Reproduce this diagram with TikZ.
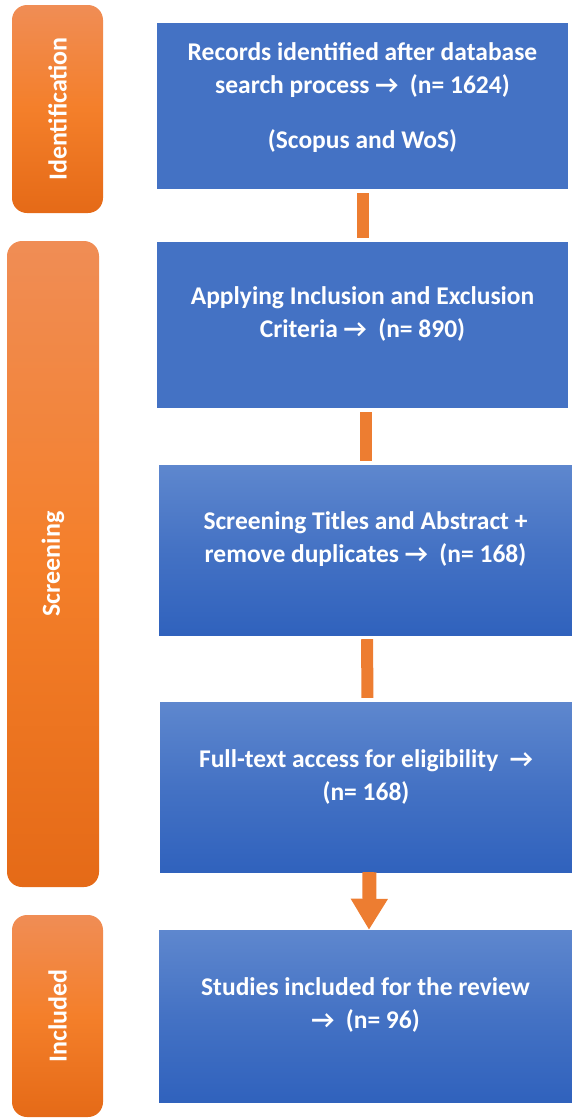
\documentclass[tikz,border=0pt]{standalone}
\usepackage{fontspec}
\setmainfont{Carlito}
\usetikzlibrary{arrows.meta}
\definecolor{stepblue}{HTML}{4472C4}
\definecolor{blueTop}{HTML}{5E87CE}
\definecolor{blueBot}{HTML}{3062BD}
\definecolor{orgTop}{HTML}{F08D55}
\definecolor{orgMid}{HTML}{F47F2A}
\definecolor{orgBot}{HTML}{E56A17}
\definecolor{linkorange}{HTML}{ED7D31}
\tikzset{
  x=1pt, y=1pt,
  flatbox/.style={rectangle, fill=stepblue, inner sep=0pt},
  shadebox/.style={rectangle, inner sep=0pt, top color=blueTop, bottom color=blueBot, middle color=stepblue},
  phasebox/.style={rectangle, rounded corners=15pt, inner sep=0pt, top color=orgTop, bottom color=orgBot, middle color=orgMid},
  phaselabel/.style={text=white, font=\bfseries\fontsize{26}{30}\selectfont, rotate=90},
  boxtext/.style={text=white, align=center, font=\bfseries\fontsize{25.5}{33}\selectfont},
  link/.style={draw=linkorange, line width=12pt, shorten <=4pt, shorten >=4pt},
}
\begin{document}
\begin{tikzpicture}
\useasboundingbox (0,0) rectangle (572,-1119);

% phase bars
\node[phasebox, minimum width=91pt, minimum height=208pt] (pid) at (57.5,-109) {};
\node[phaselabel] (lid) at (pid.center) {Identification};
\node[phasebox, minimum width=92pt, minimum height=646pt] (psc) at (53,-564) {};
\node[phaselabel] (lsc) at (psc.center) {Screening};
\node[phasebox, minimum width=91pt, minimum height=202pt] (pin) at (57.5,-1016) {};
\node[phaselabel] (lin) at (pin.center) {Included};

% process boxes
\node[flatbox, minimum width=411pt, minimum height=166pt] (b1) at (362.5,-106) {};
\node[boxtext] (t1) at (362.5,-98) {Records identified after database\\search process →\ \ (n= 1624)\\[22pt](Scopus and WoS)};
\node[flatbox, minimum width=411pt, minimum height=166pt] (b2) at (362.5,-325) {};
\node[boxtext] (t2) at (362.5,-314) {Applying Inclusion and Exclusion\\Criteria →\ \ (n= 890)};
\node[shadebox, minimum width=413pt, minimum height=170pt] (b3) at (365.5,-550) {};
\node[boxtext] (t3) at (365.5,-539) {Screening Titles and Abstract +\\remove duplicates →\ \ (n= 168)};
\node[shadebox, minimum width=412pt, minimum height=170pt] (b4) at (366,-787) {};
\node[boxtext] (t4) at (366,-777) {Full-text access for eligibility\ \ →\\(n= 168)};
\node[shadebox, minimum width=413pt, minimum height=172pt] (b5) at (365.5,-1016) {};
\node[boxtext] (t5) at (365.5,-1005) {Studies included for the review\\→\ \ (n= 96)};

% connectors
\draw[link] (b1.south) -- (b2.north);
\draw[link] ([xshift=3pt]b2.south -| b2.center) -- ([xshift=3pt]b3.north -| b2.center);
\draw[link] ([xshift=1.5pt]b3.south) -- ([xshift=1.5pt]b4.north);
\draw[draw=linkorange, line width=14pt,
      -{Triangle[width'=35pt 0, length=31pt 0, fill=linkorange]}]
  ([xshift=3.5pt]b4.south) -- ([xshift=3.5pt]b5.north);
\end{tikzpicture}
\end{document}
